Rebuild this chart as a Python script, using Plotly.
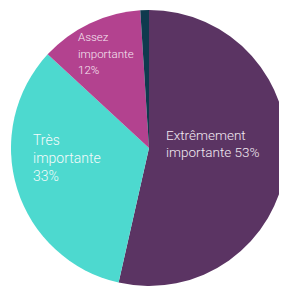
import plotly.graph_objects as go

labels = ["Extrêmement importante", "Très importante", "Assez importante", "Autre"]
values = [53, 33, 12, 1]
pct_labels = ["53%", "33%", "12%", ""]
colors = ["#5b3463", "#4dd9cf", "#b3428f", "#0f3a4e"]

OFF = 8  # page body margin
W, H = 287 - OFF, 286 - OFF  # keep the figure inside the window
R = 138
cx, cy = 149 - OFF, 148 - OFF
fig = go.Figure(go.Pie(
    labels=labels,
    values=values,
    sort=False,
    direction="clockwise",
    rotation=0,
    marker=dict(colors=colors, line=dict(width=0)),
    textinfo="none",
    hoverinfo="label+percent",
    domain=dict(x=[(cx - R) / W, min(1, (cx + R) / W)],
                y=[max(0, 1 - (cy + R) / H), 1 - (cy - R) / H]),
    showlegend=False,
))

label_lines = [
    ["Extrêmement", "importante " + pct_labels[0]],
    ["Très", "importante", pct_labels[1]],
    ["Assez", "importante", pct_labels[2]],
]
# (left x, list of baselines, font size) in screen pixels
label_layout = [
    (165, [140, 157], 13.5),
    (32, [145, 163, 181], 14),
    (77, [41, 58, 74], 11.5),
]
label_colors = ["#f2eaf2", "#f4fbfb", "#f7e6f2"]
for lines, (x, bases, s), c in zip(label_lines, label_layout, label_colors):
    for ln, b in zip(lines, bases):
        yc = b - OFF - 0.35 * s
        fig.add_annotation(
            text=ln, x=(x - OFF - 1) / W, y=1 - yc / H, xref="paper", yref="paper",
            xanchor="left", yanchor="middle", align="left", showarrow=False,
            font=dict(family="Roboto", size=s, color=c, weight=300),
        )

fig.update_layout(
    width=W, height=H,
    margin=dict(l=0, r=0, t=0, b=0),
    paper_bgcolor="white",
    plot_bgcolor="white",
)
fig.write_html("out.html")
